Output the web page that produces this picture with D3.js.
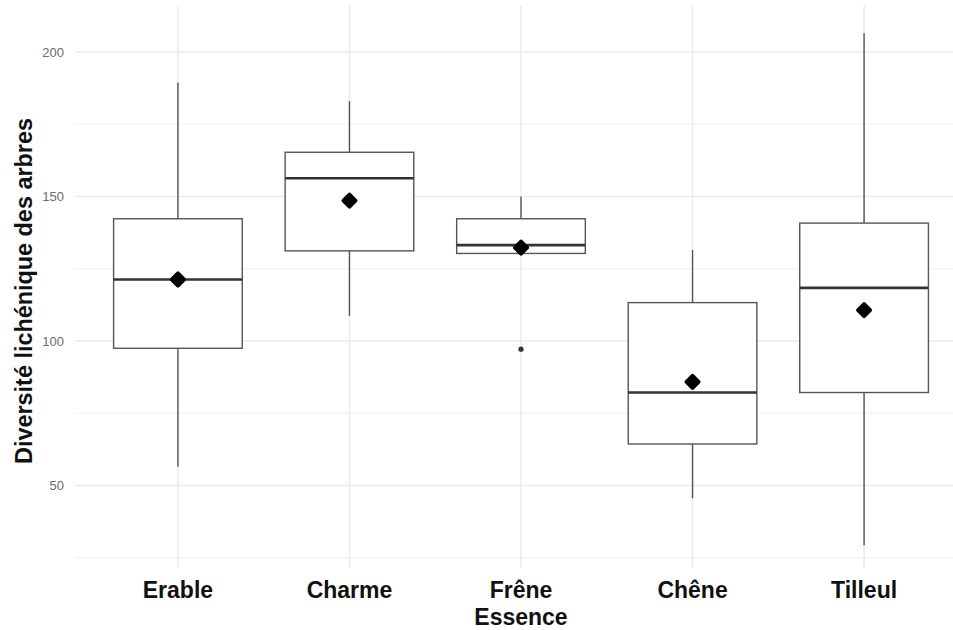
<!DOCTYPE html>
<html>
<head>
<meta charset="utf-8">
<script src="https://cdn.jsdelivr.net/npm/d3@7"></script>
<style>
  body { margin: 0; background: #fff; }
  svg { display: block; font-family: "Liberation Sans", Arial, sans-serif; }
</style>
</head>
<body>
<div class="chart"></div>
<script>
var categories = ["Erable", "Charme", "Frêne", "Chêne", "Tilleul"];
var whiskerLow = [56.5, 108.7, 130.3, 45.6, 29.4];
var q1 = [97.5, 131.2, 130.3, 64.4, 82.2];
var median = [121.3, 156.3, 133.2, 82.2, 118.4];
var q3 = [142.3, 165.3, 142.3, 113.3, 140.8];
var whiskerHigh = [189.4, 183, 150, 131.5, 206.5];
var means = [121.3, 148.6, 132.3, 85.9, 110.7];
var outlierCats = ["Frêne"];
var outlierValues = [97.2];
var majorTicks = [50, 100, 150, 200];
var minorTicks = [25, 75, 125, 175];

var width = 953,
    height = 630;

var svg = d3.select(".chart").append("svg")
    .attr("width", width)
    .attr("height", height);

var x = d3.scalePoint()
    .domain(categories)
    .range([75, 967])
    .padding(0.6);

var y = d3.scaleLinear()
    .domain([21.5, 216])
    .range([568, 5.7]);

var boxW = x.step() * 0.75;

// grid
svg.append("g")
    .selectAll("line")
    .data(minorTicks)
    .enter()
    .append("line")
    .attr("x1", 75).attr("x2", width)
    .attr("y1", function(d){ return y(d); })
    .attr("y2", function(d){ return y(d); })
    .attr("stroke", "#f2f2f2")
    .attr("stroke-width", 1.2);

svg.append("g")
    .selectAll("line")
    .data(majorTicks)
    .enter()
    .append("line")
    .attr("x1", 75).attr("x2", width)
    .attr("y1", function(d){ return y(d); })
    .attr("y2", function(d){ return y(d); })
    .attr("stroke", "#ebebeb")
    .attr("stroke-width", 1.5);

svg.append("g")
    .selectAll("line")
    .data(categories)
    .enter()
    .append("line")
    .attr("x1", function(d){ return x(d); })
    .attr("x2", function(d){ return x(d); })
    .attr("y1", y(216)).attr("y2", y(21.5))
    .attr("stroke", "#ebebeb")
    .attr("stroke-width", 1.5);

// y tick labels
svg.append("g")
    .selectAll("text")
    .data(majorTicks)
    .enter()
    .append("text")
    .attr("x", 64)
    .attr("y", function(d){ return y(d); })
    .attr("dy", "0.35em")
    .attr("text-anchor", "end")
    .attr("font-size", "13px")
    .attr("fill", "#6b6b6b")
    .text(function(d){ return d; });

// boxes
var boxes = svg.append("g")
    .selectAll("g")
    .data(categories)
    .enter()
    .append("g");

boxes.append("line")
    .attr("x1", function(d){ return x(d); })
    .attr("x2", function(d){ return x(d); })
    .attr("y1", function(d, i){ return y(q3[i]); })
    .attr("y2", function(d, i){ return y(whiskerHigh[i]); })
    .attr("stroke", "#555")
    .attr("stroke-width", 1.4);

boxes.append("line")
    .attr("x1", function(d){ return x(d); })
    .attr("x2", function(d){ return x(d); })
    .attr("y1", function(d, i){ return y(q1[i]); })
    .attr("y2", function(d, i){ return y(whiskerLow[i]); })
    .attr("stroke", "#555")
    .attr("stroke-width", 1.4);

boxes.append("rect")
    .attr("x", function(d){ return x(d) - boxW / 2; })
    .attr("width", boxW)
    .attr("y", function(d, i){ return y(q3[i]); })
    .attr("height", function(d, i){ return y(q1[i]) - y(q3[i]); })
    .attr("fill", "#fff")
    .attr("stroke", "#555")
    .attr("stroke-width", 1.4);

boxes.append("line")
    .attr("x1", function(d){ return x(d) - boxW / 2; })
    .attr("x2", function(d){ return x(d) + boxW / 2; })
    .attr("y1", function(d, i){ return y(median[i]); })
    .attr("y2", function(d, i){ return y(median[i]); })
    .attr("stroke", "#333")
    .attr("stroke-width", 2.6);

// outliers
svg.append("g")
    .selectAll("circle")
    .data(outlierValues)
    .enter()
    .append("circle")
    .attr("cx", function(d, i){ return x(outlierCats[i]); })
    .attr("cy", function(d){ return y(d); })
    .attr("r", 2.6)
    .attr("fill", "#333");

// means
svg.append("g")
    .selectAll("path")
    .data(means)
    .enter()
    .append("path")
    .attr("d", d3.symbol().type(d3.symbolSquare).size(72))
    .attr("transform", function(d, i){
      return "translate(" + x(categories[i]) + "," + y(d) + ") rotate(45)";
    })
    .attr("fill", "#000")
    .attr("stroke", "#000")
    .attr("stroke-width", 4)
    .attr("stroke-linejoin", "round");

// x labels
svg.append("g")
    .selectAll("text")
    .data(categories)
    .enter()
    .append("text")
    .attr("x", function(d){ return x(d); })
    .attr("y", 598)
    .attr("text-anchor", "middle")
    .attr("font-size", "23px")
    .attr("font-weight", "bold")
    .attr("fill", "#111")
    .text(function(d){ return d; });

svg.append("text")
    .attr("x", x("Frêne"))
    .attr("y", 625)
    .attr("text-anchor", "middle")
    .attr("font-size", "23px")
    .attr("font-weight", "bold")
    .attr("fill", "#111")
    .text("Essence");

svg.append("text")
    .attr("transform", "translate(32,291) rotate(-90)")
    .attr("text-anchor", "middle")
    .attr("font-size", "23.4px")
    .attr("font-weight", "bold")
    .attr("fill", "#111")
    .text("Diversité lichénique des arbres");
</script>
</body>
</html>
